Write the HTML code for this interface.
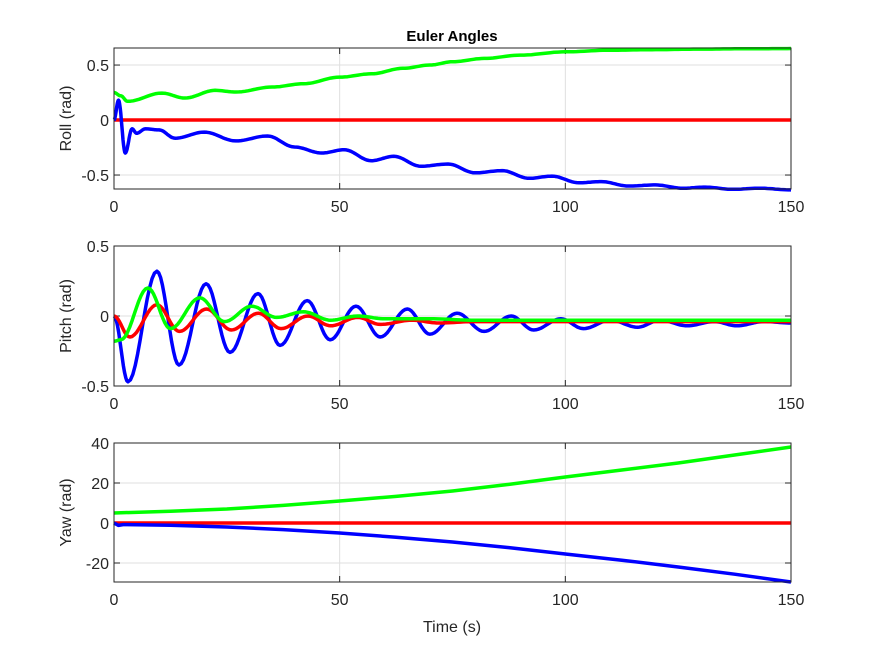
<!DOCTYPE html>
<html><head><meta charset="utf-8"><style>
body{margin:0;background:#fff;}
svg text{font-family:"Liberation Sans",Arial,sans-serif;fill:#262626;}
</style></head><body>
<svg id="fig" width="875" height="656" viewBox="0 0 875 656" xmlns="http://www.w3.org/2000/svg">
<rect width="875" height="656" fill="#fff"/>
<text x="452" y="41" text-anchor="middle" font-size="15" font-weight="bold" style="fill:#000">Euler Angles</text>
<text x="452" y="632" text-anchor="middle" font-size="16">Time (s)</text>
</svg>
<script>
const xTicks=[0,50,100,150];
const rollTicks=[-0.5,0,0.5];
const pitchTicks=[-0.5,0,0.5];
const yawTicks=[-20,0,20,40];
// Roll
const rollBlueT=[0,1,2.5,4,5,7,10,13.5,20,27,34,40,46,51,57,62,68,74,80,86,92,97,103,108,114,120,126,131,137,143,150];
const rollBlueV=[0,0.18,-0.3,-0.08,-0.12,-0.08,-0.09,-0.165,-0.11,-0.19,-0.145,-0.245,-0.3,-0.27,-0.37,-0.33,-0.42,-0.4,-0.48,-0.46,-0.53,-0.51,-0.57,-0.56,-0.6,-0.59,-0.62,-0.61,-0.63,-0.62,-0.635];
const rollGreenT=[0,1.5,3,10.6,15.7,22.4,27,35,42,50,57,64,70,75,82,90,100,110,120,130,140,150];
const rollGreenV=[0.25,0.22,0.17,0.245,0.2,0.27,0.255,0.3,0.33,0.39,0.42,0.47,0.5,0.53,0.56,0.59,0.62,0.635,0.64,0.645,0.648,0.65];
const rollRedT=[0,150];
const rollRedV=[0,0];
// Pitch
const pitchBlueT=[0,3.1,9.5,14.4,20.4,25.7,31.9,36.8,42.8,47.9,53.6,59,65,70,76,82,88,93,99,104,110,116,121,127,133,138,144,150];
const pitchBlueV=[0,-0.47,0.32,-0.35,0.23,-0.26,0.16,-0.21,0.11,-0.17,0.07,-0.15,0.05,-0.13,0.02,-0.11,0.0,-0.1,-0.02,-0.09,-0.03,-0.08,-0.03,-0.07,-0.04,-0.07,-0.04,-0.05];
const pitchRedT=[0,3.5,9.5,14.5,20.5,26,32,37,43,48,54,59,66,72,80,90,100,150];
const pitchRedV=[0,-0.15,0.08,-0.11,0.05,-0.1,0.02,-0.09,0.0,-0.07,-0.01,-0.06,-0.03,-0.05,-0.04,-0.04,-0.04,-0.04];
const pitchGreenT=[0,1.5,7.5,12.5,19,24.5,30.5,36,42,48,54,60,70,80,100,150];
const pitchGreenV=[-0.18,-0.17,0.2,-0.09,0.13,-0.04,0.07,-0.01,0.03,-0.03,0.0,-0.02,-0.02,-0.03,-0.03,-0.03];
// Yaw
const yawGreenT=[0,12.5,25,37.5,50,62.5,75,87.5,100,112.5,125,137.5,150];
const yawGreenV=[5,5.9,7,8.8,11,13.3,16,19.3,23,26.5,30,34,38];
const yawBlueT=[0,1,2,12.5,25,37.5,50,62.5,75,87.5,100,112.5,125,137.5,150];
const yawBlueV=[0,-1.2,-0.8,-1.1,-2,-3.3,-5,-7.1,-9.5,-12.3,-15.5,-18.6,-22,-25.6,-29.5];
const yawRedT=[0,150];
const yawRedV=[0,0];

const NS="http://www.w3.org/2000/svg";
const svg=document.getElementById('fig');
const L=114,R=791;
function mk(tag,attrs,parent){const e=document.createElementNS(NS,tag);for(const k in attrs)e.setAttribute(k,attrs[k]);(parent||svg).appendChild(e);return e;}
function panel(name,top,bot,ymin,ymax,yt,label,series){
  const g=mk('g',{});
  
  
  const xs=v=>L+(v-0)/(150-0)*(R-L);
  const ys=v=>bot-(v-ymin)/(ymax-ymin)*(bot-top);
  xTicks.forEach(t=>{
    const x=xs(t);
    const gl=mk('line',{x1:x,x2:x,y1:top,y2:bot,stroke:'#dfdfdf','stroke-width':1},g);
    
    
    mk('line',{x1:x,x2:x,y1:bot,y2:bot-6,stroke:'#262626'},g);
    mk('line',{x1:x,x2:x,y1:top,y2:top+6,stroke:'#262626'},g);
    const tx=mk('text',{x:x,y:bot+23,'text-anchor':'middle','font-size':16},g);
    tx.textContent=t;
    
    
  });
  yt.forEach(t=>{
    const y=ys(t);
    const gl=mk('line',{x1:L,x2:R,y1:y,y2:y,stroke:'#dfdfdf','stroke-width':1},g);
    
    
    mk('line',{x1:L,x2:L+6,y1:y,y2:y,stroke:'#262626'},g);
    mk('line',{x1:R,x2:R-6,y1:y,y2:y,stroke:'#262626'},g);
    const tx=mk('text',{x:L-5,y:y+6,'text-anchor':'end','font-size':16},g);
    tx.textContent=t;
    
    
  });
  const lab=mk('text',{x:0,y:0,'text-anchor':'middle','font-size':16,transform:`translate(71,${(top+bot)/2}) rotate(-90)`},g);
  lab.textContent=label;
  
  
  series.forEach(s=>{
    let d='';
    const T=s.t,V=s.v;
    for(let i=0;i<T.length;i++){
      if(i===0){d+=`M${xs(T[0]).toFixed(1)},${ys(V[0]).toFixed(1)}`;continue;}
      const n=s.mode==='cos'?12:1;
      for(let k=1;k<=n;k++){
        const f=k/n;const w=s.mode==='cos'?(1-Math.cos(Math.PI*f))/2:f;
        const t=T[i-1]+(T[i]-T[i-1])*f;const v=V[i-1]+(V[i]-V[i-1])*w;
        d+=`L${xs(t).toFixed(1)},${ys(v).toFixed(1)}`;
      }
    }
    const p=mk('path',{d:d,fill:'none',stroke:s.c,'stroke-width':3.5,'stroke-linejoin':'round'},g);
    
    
  });
  mk('rect',{x:L,y:top,width:R-L,height:bot-top,fill:'none',stroke:'#262626','stroke-width':1},g);
}
panel('roll',48,189,-0.627,0.655,rollTicks,'Roll (rad)',[
  {n:'roll-red-line',c:'#ff0000',t:rollRedT,v:rollRedV,mode:'lin'},
  {n:'roll-blue-line',c:'#0000ff',t:rollBlueT,v:rollBlueV,mode:'cos'},
  {n:'roll-green-line',c:'#00ff00',t:rollGreenT,v:rollGreenV,mode:'cos'}]);
panel('pitch',246,386,-0.5,0.5,pitchTicks,'Pitch (rad)',[
  {n:'pitch-blue-line',c:'#0000ff',t:pitchBlueT,v:pitchBlueV,mode:'cos'},
  {n:'pitch-red-line',c:'#ff0000',t:pitchRedT,v:pitchRedV,mode:'cos'},
  {n:'pitch-green-line',c:'#00ff00',t:pitchGreenT,v:pitchGreenV,mode:'cos'}]);
panel('yaw',443,582,-29.5,40,yawTicks,'Yaw (rad)',[
  {n:'yaw-red-line',c:'#ff0000',t:yawRedT,v:yawRedV,mode:'lin'},
  {n:'yaw-blue-line',c:'#0000ff',t:yawBlueT,v:yawBlueV,mode:'lin'},
  {n:'yaw-green-line',c:'#00ff00',t:yawGreenT,v:yawGreenV,mode:'lin'}]);
</script>
</body></html>
